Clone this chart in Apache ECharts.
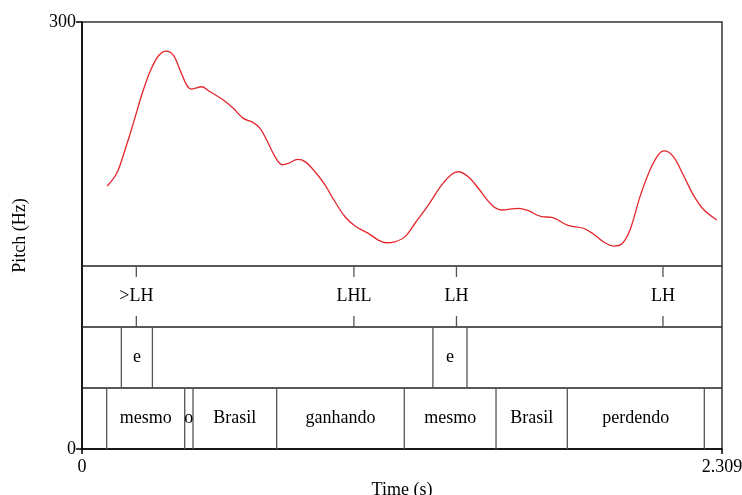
<!DOCTYPE html>
<html>
<head>
<meta charset="utf-8">
<script src="https://cdn.jsdelivr.net/npm/echarts@6/dist/echarts.min.js"></script>
<style>html,body{margin:0;padding:0;background:#fff;}#c{width:742px;height:495px;}</style>
</head>
<body>
<div id="c"></div>
<script>
// ---- data ----
const timeMax = 2.309;
const pitchMax = 300;
const xTickLabels = ['0', '2.309'];
const yTickLabels = ['0', '300'];
const pitchTimes = [0.0913,0.1252,0.1551,0.1851,0.2154,0.2453,0.2753,0.3031,0.3294,0.3536,0.3777,0.3958,0.4319,0.4618,0.5098,0.5459,0.5820,0.6180,0.6422,0.6664,0.6963,0.7227,0.7443,0.7782,0.8046,0.8407,0.8767,0.9128,0.9489,0.9850,1.0330,1.0690,1.0957,1.1293,1.1654,1.2014,1.2494,1.2978,1.3339,1.3577,1.3937,1.4298,1.4782,1.5142,1.5741,1.6102,1.6586,1.6946,1.7426,1.7607,1.8087,1.8447,1.8808,1.9169,1.9472,1.9771,2.0132,2.0493,2.0792,2.0998,2.1334,2.1694,2.2055,2.2416,2.2899];
const pitchHz = [184.8,193.7,210.1,228.8,248.7,265.1,276.1,279.6,276.8,266.3,255.7,252.9,254.5,251.0,245.2,239.4,232.3,229.3,225.3,217.1,205.4,199.7,200.7,203.5,201.9,194.8,185.5,173.7,163.2,156.7,151.5,146.8,144.9,145.6,149.2,158.6,171.4,185.5,193.0,194.8,191.3,183.2,171.4,167.9,169.1,167.4,163.2,162.8,158.1,156.7,155.1,151.1,145.6,142.6,144.0,153.9,177.3,196.0,206.6,209.4,205.4,192.5,178.5,168.4,160.9];
// tier 1 (point tier): tones
const toneTimes = [0.196, 0.981, 1.351, 2.096];
const toneLabels = ['>LH', 'LHL', 'LH', 'LH'];
// tier 2 (interval tier)
const tier2Bounds = [0.142, 0.254, 1.266, 1.389];
const tier2Labels = ['', 'e', '', 'e', ''];
// tier 3 (words)
const wordBounds = [0.089, 0.3705, 0.4005, 0.7024, 1.1628, 1.4937, 1.7509, 2.2452];
const wordLabels = ['', 'mesmo', 'o', 'Brasil', 'ganhando', 'mesmo', 'Brasil', 'perdendo', ''];

// ---- layout helpers ----
const FONT = '"Liberation Serif", "Times New Roman", serif';
const FS = 18;
const unit = pitchMax / 7; // each tier occupies one seventh of the vertical range
const tierTop = [3 * unit, 2 * unit, unit]; // tier1, tier2, tier3 top values
const tierBottom = [2 * unit, unit, 0];

function intervalLabelData(bounds, labels, tierIdx) {
  const edges = [0].concat(bounds, [timeMax]);
  const out = [];
  for (let i = 0; i < labels.length; i++) {
    if (!labels[i]) continue;
    out.push({ value: [(edges[i] + edges[i + 1]) / 2, (tierTop[tierIdx] + tierBottom[tierIdx]) / 2], name: labels[i] });
  }
  return out;
}

const boundaryData = [];
tier2Bounds.forEach(t => boundaryData.push([t, tierBottom[1], tierTop[1]]));
wordBounds.forEach(t => boundaryData.push([t, tierBottom[2], tierTop[2]]));

const separatorData = [tierTop[0], tierTop[1], tierTop[2]].map(v => [0, v]);

const textData = []
  .concat(toneTimes.map((t, i) => ({ value: [t, (tierTop[0] + tierBottom[0]) / 2], name: toneLabels[i] })))
  .concat(intervalLabelData(tier2Bounds, tier2Labels, 1))
  .concat(intervalLabelData(wordBounds, wordLabels, 2));

const chart = echarts.init(document.getElementById('c'), null, { renderer: 'canvas' });
chart.setOption({
  animation: false,
  backgroundColor: '#fff',
  grid: { left: 82, right: 20, top: 22, bottom: 46, containLabel: false, outerBoundsMode: 'none',
    show: true, borderColor: '#333', borderWidth: 1.5, backgroundColor: 'transparent' },
  xAxis: {
    type: 'value', min: 0, max: timeMax, interval: timeMax,
    name: 'Time (s)', nameLocation: 'middle', nameGap: 29,
    nameTextStyle: { fontFamily: FONT, fontSize: FS, color: '#000' },
    axisLine: { show: true, onZero: false, lineStyle: { color: '#000', width: 1.5 } },
    axisTick: { show: true, length: 5, lineStyle: { color: '#000', width: 1.5 } },
    axisLabel: { fontFamily: FONT, fontSize: FS, color: '#000', margin: 9,
      formatter: v => (v === 0 ? xTickLabels[0] : xTickLabels[1]) },
    splitLine: { show: false }
  },
  yAxis: {
    type: 'value', min: 0, max: pitchMax, interval: pitchMax,
    name: 'Pitch (Hz)', nameLocation: 'middle', nameGap: 53, nameRotate: 90,
    nameTextStyle: { fontFamily: FONT, fontSize: FS, color: '#000' },
    axisLine: { show: true, lineStyle: { color: '#000', width: 1.5 } },
    axisTick: { show: true, length: 6, lineStyle: { color: '#000', width: 1.5 } },
    axisLabel: { fontFamily: FONT, fontSize: FS, color: '#000', margin: 6,
      formatter: v => (v === 0 ? yTickLabels[0] : yTickLabels[1]) },
    splitLine: { show: false }
  },
  series: [
    {
      type: 'line', name: 'pitch',
      data: pitchTimes.map((t, i) => [t, pitchHz[i]]),
      smooth: 0.35, showSymbol: false, symbol: 'none',
      lineStyle: { color: '#e3262b', width: 1.3 }
    },
    {
      type: 'custom', name: 'separators',
      data: separatorData,
      renderItem: (params, api) => {
        const v = api.value(1);
        const p0 = api.coord([0, v]);
        const p1 = api.coord([timeMax, v]);
        return { type: 'line', shape: { x1: p0[0], y1: p0[1], x2: p1[0], y2: p1[1] }, style: { stroke: '#222', lineWidth: 1.5 } };
      }
    },
    {
      type: 'custom', name: 'boundaries',
      data: boundaryData,
      renderItem: (params, api) => {
        const t = api.value(0);
        const p0 = api.coord([t, api.value(1)]);
        const p1 = api.coord([t, api.value(2)]);
        return { type: 'line', shape: { x1: p0[0], y1: p0[1], x2: p1[0], y2: p1[1] }, style: { stroke: '#555', lineWidth: 1.3 } };
      }
    },
    {
      type: 'custom', name: 'toneTicks',
      data: toneTimes.map(t => [t, tierBottom[0], tierTop[0]]),
      renderItem: (params, api) => {
        const t = api.value(0);
        const pb = api.coord([t, api.value(1)]);
        const pt = api.coord([t, api.value(2)]);
        const len = 11;
        return { type: 'group', children: [
          { type: 'line', shape: { x1: pt[0], y1: pt[1], x2: pt[0], y2: pt[1] + len }, style: { stroke: '#555', lineWidth: 1.3 } },
          { type: 'line', shape: { x1: pb[0], y1: pb[1], x2: pb[0], y2: pb[1] - len }, style: { stroke: '#555', lineWidth: 1.3 } }
        ] };
      }
    },
    {
      type: 'custom', name: 'labels',
      data: textData,
      renderItem: (params, api) => {
        const p = api.coord([api.value(0), api.value(1)]);
        return { type: 'text', x: p[0], y: p[1], style: { text: textData[params.dataIndex].name, fill: '#000', font: FS + 'px ' + FONT, align: 'center', verticalAlign: 'middle' } };
      }
    }
  ]
});
</script>
</body>
</html>
